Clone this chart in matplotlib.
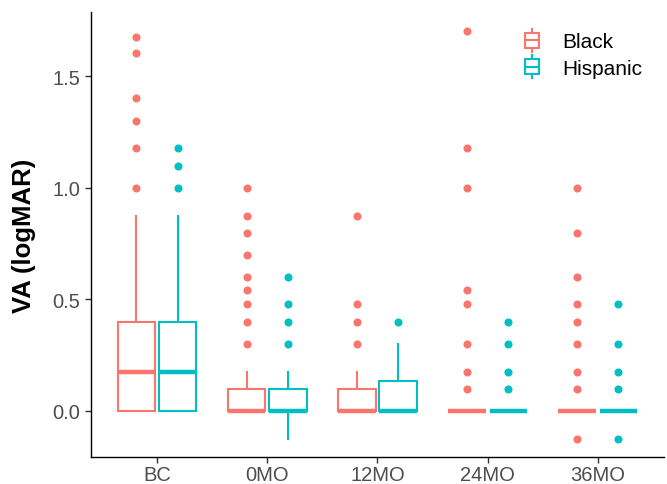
import matplotlib
matplotlib.use('Agg')
import matplotlib.pyplot as plt
from matplotlib.legend_handler import HandlerBase
from matplotlib.patches import Rectangle
from matplotlib.lines import Line2D

plt.rcParams['font.family'] = ['Liberation Sans', 'DejaVu Sans']

categories = ['BC', '0MO', '12MO', '24MO', '36MO']
groups = ['Black', 'Hispanic']
colors = {'Black': '#F8766D', 'Hispanic': '#00BFC4'}

black_q1 = [0, 0, 0, 0, 0]
black_med = [0.176, 0, 0, 0, 0]
black_q3 = [0.4, 0.097, 0.097, 0, 0]
black_whislo = [0, 0, 0, 0, 0]
black_whishi = [0.875, 0.176, 0.176, 0, 0]
black_fliers = [
    [1.0, 1.176, 1.3, 1.4, 1.602, 1.677],
    [0.3, 0.4, 0.477, 0.544, 0.6, 0.7, 0.796, 0.875, 1.0],
    [0.3, 0.4, 0.477, 0.875],
    [0.097, 0.176, 0.3, 0.477, 0.544, 1.0, 1.176, 1.7],
    [-0.125, 0.097, 0.176, 0.3, 0.4, 0.477, 0.6, 0.796, 1.0],
]

hisp_q1 = [0, 0, 0, 0, 0]
hisp_med = [0.176, 0, 0, 0, 0]
hisp_q3 = [0.4, 0.097, 0.136, 0, 0]
hisp_whislo = [0, -0.125, 0, 0, 0]
hisp_whishi = [0.875, 0.176, 0.3, 0, 0]
hisp_fliers = [
    [1.0, 1.097, 1.176],
    [0.3, 0.4, 0.477, 0.6],
    [0.4],
    [0.097, 0.176, 0.3, 0.4],
    [-0.125, 0.097, 0.176, 0.3, 0.477],
]

data = {
    'Black': (black_q1, black_med, black_q3, black_whislo, black_whishi, black_fliers),
    'Hispanic': (hisp_q1, hisp_med, hisp_q3, hisp_whislo, hisp_whishi, hisp_fliers),
}

fig = plt.figure(figsize=(6.67, 4.85), dpi=100)
ax = fig.add_axes([0.1364, 0.0557, 0.859, 0.9175])

offsets = {'Black': -0.1875, 'Hispanic': 0.1875}
for g in groups:
    q1, med, q3, wl, wh, fl = data[g]
    c = colors[g]
    stats = []
    for i in range(len(categories)):
        stats.append(dict(q1=q1[i], med=med[i], q3=q3[i], whislo=wl[i],
                          whishi=wh[i], fliers=fl[i]))
    pos = [i + 1 + offsets[g] for i in range(len(categories))]
    ax.bxp(stats, positions=pos, widths=0.34, showcaps=False, patch_artist=True,
           boxprops=dict(facecolor='white', edgecolor=c, linewidth=1.5),
           whiskerprops=dict(color=c, linewidth=1.5),
           medianprops=dict(color=c, linewidth=3.2, solid_capstyle='butt'),
           flierprops=dict(marker='o', markerfacecolor=c, markeredgecolor=c,
                           markersize=4.8, linestyle='none'),
           manage_ticks=False)

ax.set_xlim(0.4, 5.6)
ax.set_ylim(-0.206, 1.787)
ax.set_xticks(range(1, len(categories) + 1))
ax.set_xticklabels(categories)
ax.set_yticks([0.0, 0.5, 1.0, 1.5])
ax.set_yticklabels(['0.0', '0.5', '1.0', '1.5'])
ax.tick_params(axis='both', labelsize=14.5, labelcolor='#4D4D4D', color='#333333',
               length=4, width=1)
ax.tick_params(axis='x', pad=1.5)
ax.spines['top'].set_visible(False)
ax.spines['right'].set_visible(False)
ax.spines['left'].set_linewidth(1.0)
ax.spines['bottom'].set_linewidth(1.0)
ax.set_ylabel('VA (logMAR)', fontsize=18.5, fontweight='bold', labelpad=12)


class BoxHandler(HandlerBase):
    def create_artists(self, legend, orig_handle, xdescent, ydescent, width,
                       height, fontsize, trans):
        c = orig_handle.get_color()
        x0 = -xdescent
        y0 = -ydescent
        cx = x0 + width / 2
        bw = width
        box = Rectangle((cx - bw / 2, y0 + height * 0.1), bw, height * 0.8,
                        facecolor='white', edgecolor=c, linewidth=1.5, transform=trans)
        med = Line2D([cx - bw / 2, cx + bw / 2], [y0 + height / 2] * 2, color=c,
                     linewidth=1.5, transform=trans)
        w1 = Line2D([cx, cx], [y0 - height * 0.12, y0 + height * 0.1], color=c,
                    linewidth=1.5, transform=trans)
        w2 = Line2D([cx, cx], [y0 + height * 0.9, y0 + height * 1.12], color=c,
                    linewidth=1.5, transform=trans)
        return [w1, w2, box, med]


handles = [Line2D([], [], color=colors[g]) for g in groups]
ax.legend(handles, groups, loc='upper right', bbox_to_anchor=(0.995, 1.0),
          frameon=False, fontsize=15, handler_map={Line2D: BoxHandler()},
          handlelength=0.7, handleheight=1.0, labelspacing=0.3, handletextpad=1.1)

fig.savefig('out.png', dpi=100)
